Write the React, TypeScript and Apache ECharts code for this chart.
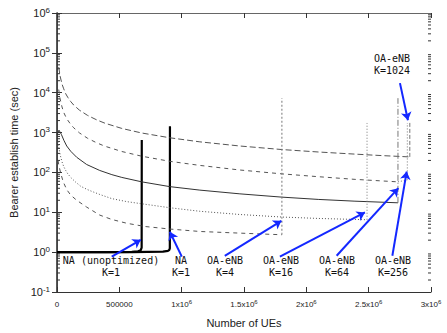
import React, { useEffect, useRef } from 'react';
import * as echarts from 'echarts';

// ---- data (x = number of UEs, y = bearer establish time in sec) ----
const naUnoptX = [0, 400000, 600000, 650000, 672000, 679000, 680000];
const naUnoptY = [1.0, 1.0, 1.02, 1.05, 1.12, 1.3, 650];

const naK1X = [0, 600000, 850000, 890000, 900000, 905000, 906000];
const naK1Y = [1.0, 1.0, 1.03, 1.08, 1.13, 1.25, 1450];

const k1024X = [14000, 25000, 40000, 54000, 70000, 86000, 110000, 134000, 180000, 245000, 320000, 384000, 520000, 680000, 905000, 1146000, 1467000, 1804000, 2100000, 2390000, 2600000, 2830000];
const k1024Y = [44000, 26000, 16500, 12500, 9400, 7700, 6000, 4900, 3650, 2700, 2070, 1720, 1270, 975, 740, 585, 460, 375, 325, 288, 265, 245];

const k256X = [14000, 25000, 40000, 54000, 70000, 86000, 110000, 134000, 180000, 245000, 320000, 384000, 520000, 680000, 905000, 1146000, 1467000, 1804000, 2100000, 2390000, 2735000];
const k256Y = [12000, 7000, 4400, 3200, 2500, 2050, 1600, 1320, 980, 720, 550, 455, 335, 255, 190, 150, 115, 92, 78, 67, 58];

const k64X = [0, 16000, 35000, 55000, 78000, 110000, 158000, 238000, 343000, 440000, 520000, 680000, 905000, 1146000, 1467000, 1804000, 2100000, 2390000, 2735000];
const k64Y = [900, 1150, 900, 640, 460, 340, 240, 158, 112, 88, 75, 58, 44, 36, 29, 24, 21, 19, 17.3];

const k16X = [8000, 14000, 25000, 40000, 54000, 70000, 86000, 110000, 150000, 190000, 245000, 295000, 343000, 440000, 560000, 745000, 905000, 1146000, 1467000, 1804000, 2100000, 2487000];
const k16Y = [600, 440, 280, 185, 140, 112, 93, 75, 57, 45, 37, 32, 28, 22, 18.5, 15.3, 13, 10.6, 8.8, 7.6, 7.0, 6.5];

const k4X = [8000, 15000, 30000, 50000, 78000, 110000, 158000, 238000, 343000, 440000, 560000, 706000, 905000, 1146000, 1467000, 1804000];
const k4Y = [200, 150, 95, 58, 37, 27, 20, 13.5, 8.5, 6.6, 5.3, 4.4, 3.8, 3.3, 3.0, 2.73];

// vertical jumps at capacity limits
const jumpK4X = [1804000, 1804000];
const jumpK4Y = [2.73, 7300];
const jumpK16X = [2487000, 2487000];
const jumpK16Y = [6.5, 1740];
const jumpK64X = [2735000, 2735000];
const jumpK64Y = [17.3, 7300];
const jumpK256X = [2735000, 2810000, 2810000];
const jumpK256Y = [58, 65, 1740];
const jumpK1024X = [2830000, 2830000];
const jumpK1024Y = [245, 1840];

// annotation arrows (data coords)
const arrowFromX = [439000, 1001000, 1346000, 1788000, 2243000, 2690000, 2751000];
const arrowFromY = [0.77, 0.77, 0.81, 0.77, 0.81, 0.81, 17400];
const arrowToX = [672000, 905000, 1800000, 2470000, 2738000, 2805000, 2815000];
const arrowToY = [2.04, 3.24, 6.1, 9.9, 40.3, 105, 2040];

const labelLine1 = ['NA (unoptimized)', 'NA', 'OA-eNB', 'OA-eNB', 'OA-eNB', 'OA-eNB', 'OA-eNB'];
const labelLine2 = ['K=1', 'K=1', 'K=4', 'K=16', 'K=64', 'K=256', 'K=1024'];

const minorMultipliers = [2, 3, 4, 5, 6, 7, 8, 9];
const decadeExponents = [-1, 0, 1, 2, 3, 4, 5];

const xTickLabels: Record<number, string> = {
  0: '{b|0}',
  500000: '{b|500000}',
  1000000: '{b|1x10}{s|6}',
  1500000: '{b|1.5x10}{s|6}',
  2000000: '{b|2x10}{s|6}',
  2500000: '{b|2.5x10}{s|6}',
  3000000: '{b|3x10}{s|6}',
};

const zip = (xs: number[], ys: number[]) => xs.map((x, i) => [x, ys[i]]);

export default function App() {
  const ref = useRef<HTMLDivElement>(null);
  useEffect(() => {
    document.body.style.margin = '0';
    if (!ref.current) return;
    const chart = echarts.init(ref.current, undefined, { renderer: 'svg' });
    const sansFont = '"Liberation Sans", Arial, sans-serif';
    const monoFont = '"DejaVu Sans Mono", monospace';
    const axisColor = '#333';

    const minorData: number[][] = [];
    decadeExponents.forEach((e) =>
      minorMultipliers.forEach((m) => minorData.push([0, m * Math.pow(10, e)]))
    );

    const lineSeries = (
      name: string,
      data: number[][],
      color: string,
      width: number,
      type: any
    ) => ({
      name,
      type: 'line',
      data,
      showSymbol: false,
      symbol: 'none',
      silent: true,
      z: 3,
      lineStyle: { color, width, type },
    });

    const arrows = arrowFromX.map((fx, i) => [
      { coord: [fx, arrowFromY[i]] },
      { coord: [arrowToX[i], arrowToY[i]] },
    ]);

    const labelPos = [
      [111, 255],
      [181, 255],
      [225, 255],
      [281, 255],
      [337, 255],
      [393, 255],
      [392, 53],
    ];

    const textStyle = (text: string, x: number, y: number) => ({
      type: 'text',
      x,
      y,
      silent: true,
      style: {
        text,
        textAlign: 'center',
        textVerticalAlign: 'top',
        fontFamily: monoFont,
        fontSize: 10,
        fill: '#111',
      },
    });

    const graphics: any[] = [];
    labelLine1.forEach((t, i) => {
      graphics.push(textStyle(t, labelPos[i][0], labelPos[i][1]));
      graphics.push(textStyle(labelLine2[i], labelPos[i][0], labelPos[i][1] + 12));
    });

    const option: any = {
      animation: false,
      grid: { left: 57, right: 16, top: 13, bottom: 41 },
      xAxis: [
        {
          type: 'value',
          min: 0,
          max: 3000000,
          interval: 500000,
          position: 'bottom',
          name: 'Number of UEs',
          nameLocation: 'middle',
          nameGap: 25,
          nameTextStyle: { fontFamily: sansFont, fontSize: 11, color: '#222' },
          axisLine: { show: true, lineStyle: { color: axisColor, width: 1 } },
          axisTick: { show: true, inside: true, length: 5, lineStyle: { color: axisColor } },
          splitLine: { show: false },
          axisLabel: {
            margin: 7,
            formatter: (v: number) => xTickLabels[v] ?? String(v),
            rich: {
              b: { fontFamily: sansFont, fontSize: 8, lineHeight: 10, color: '#222' },
              s: { fontFamily: sansFont, fontSize: 6, lineHeight: 6, verticalAlign: 'top', color: '#222' },
            },
          },
        },
        {
          type: 'value',
          min: 0,
          max: 3000000,
          interval: 500000,
          position: 'top',
          axisLine: { show: true, lineStyle: { color: '#666', width: 1 } },
          axisTick: { show: true, inside: true, length: 5, lineStyle: { color: axisColor } },
          axisLabel: { show: false },
          splitLine: { show: false },
        },
      ],
      yAxis: [
        {
          type: 'log',
          logBase: 10,
          min: 0.1,
          max: 1000000,
          splitNumber: 7,
          position: 'left',
          name: 'Bearer establish time (sec)',
          nameLocation: 'middle',
          nameGap: 38,
          nameTextStyle: { fontFamily: sansFont, fontSize: 11, color: '#222' },
          axisLine: { show: true, lineStyle: { color: '#222', width: 1.5 } },
          axisTick: { show: true, inside: true, length: 5, lineStyle: { color: axisColor } },
          splitLine: { show: false },
          axisLabel: {
            margin: 7,
            formatter: (v: number) => `{b|10}{s|${Math.round(Math.log10(v))}}`,
            rich: {
              b: { fontFamily: sansFont, fontSize: 11, lineHeight: 14, color: '#222' },
              s: { fontFamily: sansFont, fontSize: 8, lineHeight: 8, verticalAlign: 'top', color: '#222' },
            },
          },
        },
        {
          type: 'log',
          logBase: 10,
          min: 0.1,
          max: 1000000,
          splitNumber: 7,
          position: 'right',
          axisLine: { show: true, lineStyle: { color: '#444', width: 1 } },
          axisTick: { show: true, inside: true, length: 5, lineStyle: { color: axisColor } },
          axisLabel: { show: false },
          splitLine: { show: false },
        },
      ],
      series: [
        {
          ...lineSeries('NA (unoptimized)', zip(naUnoptX, naUnoptY), '#000', 2.2, 'solid'),
          markLine: {
            silent: true,
            symbol: ['none', 'arrow'],
            symbolSize: 8,
            label: { show: false },
            emphasis: { disabled: true },
            lineStyle: { color: '#1428ff', width: 2, type: 'solid', opacity: 1 },
            data: arrows,
          },
        },
        lineSeries('NA K=1', zip(naK1X, naK1Y), '#000', 2.2, 'solid'),
        lineSeries('OA-eNB K=1024', zip(k1024X, k1024Y), '#555', 1, [6, 3]),
        lineSeries('OA-eNB K=256', zip(k256X, k256Y), '#555', 1, [4, 4]),
        lineSeries('OA-eNB K=64', zip(k64X, k64Y), '#333', 1, 'solid'),
        lineSeries('OA-eNB K=16', zip(k16X, k16Y), '#555', 1, [1, 2]),
        lineSeries('OA-eNB K=4', zip(k4X, k4Y), '#555', 1, [4, 4]),
        lineSeries('jump K=4', zip(jumpK4X, jumpK4Y), '#777', 1, [2, 2]),
        lineSeries('jump K=16', zip(jumpK16X, jumpK16Y), '#777', 1, [1, 2]),
        lineSeries('jump K=64', zip(jumpK64X, jumpK64Y), '#777', 1, [6, 2, 1, 2]),
        lineSeries('jump K=256', zip(jumpK256X, jumpK256Y), '#777', 1, [1, 2]),
        lineSeries('jump K=1024', zip(jumpK1024X, jumpK1024Y), '#777', 1, [4, 2]),
        {
          name: 'minor ticks',
          type: 'custom',
          silent: true,
          data: minorData,
          renderItem: (params: any, api: any) => {
            const pt = api.coord([0, api.value(1)]);
            const cs = params.coordSys;
            const y = pt[1];
            const st = { stroke: axisColor, lineWidth: 1 };
            return {
              type: 'group',
              children: [
                { type: 'line', shape: { x1: cs.x, y1: y, x2: cs.x + 3, y2: y }, style: st },
                { type: 'line', shape: { x1: cs.x + cs.width - 3, y1: y, x2: cs.x + cs.width, y2: y }, style: st },
              ],
            };
          },
        },
      ],
      graphic: graphics,
    };
    chart.setOption(option);
    return () => chart.dispose();
  }, []);
  return <div ref={ref} style={{ width: 447, height: 333 }} />;
}
